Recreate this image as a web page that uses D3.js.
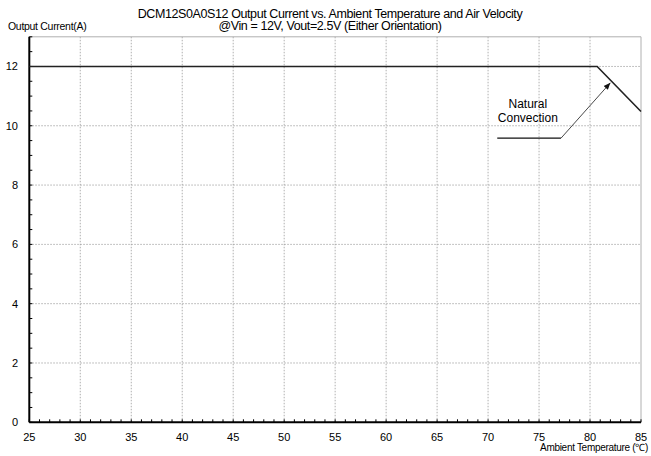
<!DOCTYPE html>
<html><head><meta charset="utf-8">
<script src="https://cdn.jsdelivr.net/npm/d3@7"></script>
<style>
body{margin:0;background:#fff;}
svg text{font-family:"Liberation Sans",Arial,sans-serif;fill:#000;}
</style></head>
<body><svg id="c" width="651" height="456"></svg>
<script>
const titleLines = ["DCM12S0A0S12 Output Current vs. Ambient Temperature and Air Velocity",
                    "@Vin = 12V, Vout=2.5V (Either Orientation)"];
const yAxisTitle = "Output Current(A)";
const xAxisTitle = "Ambient Temperature (℃)";
const xTicks = [25,30,35,40,45,50,55,60,65,70,75,80,85];
const yTicks = [0,2,4,6,8,10,12];
const curveTemp = [25, 80.7, 85];
const curveCurrent = [12, 12, 10.48];
const annotationText = ["Natural", "Convection"];

const svg = d3.select("#c");
const x = d3.scaleLinear().domain([25,85]).range([29.3,641]);
const y = d3.scaleLinear().domain([0,13]).range([422.3,36.8]);

// gridlines
svg.append("g").selectAll("line").data(xTicks.slice(1,-1)).join("line")
  .attr("x1",d=>x(d)).attr("x2",d=>x(d)).attr("y1",y(13)).attr("y2",y(0))
  .attr("stroke","#9a9a9a").attr("stroke-width",0.8).attr("stroke-dasharray","1.5,1.5");
svg.append("g").selectAll("line").data(yTicks.slice(1)).join("line")
  .attr("x1",x(25)).attr("x2",x(85)).attr("y1",d=>y(d)).attr("y2",d=>y(d))
  .attr("stroke","#9a9a9a").attr("stroke-width",0.8).attr("stroke-dasharray","1.5,1.5");
// top/right border
svg.append("path").attr("d",`M${x(25)},${y(13)}H${x(85)}V${y(0)}`)
  .attr("fill","none").attr("stroke","#b0b0b0").attr("stroke-width",1);

// axes
const xMinor = d3.range(25,86,1);
const yMinor = d3.range(0,13.01,0.5);
svg.append("g").selectAll("line").data(xMinor).join("line")
  .attr("x1",d=>x(d)).attr("x2",d=>x(d)).attr("y1",y(0)).attr("y2",y(0)-3)
  .attr("stroke","#000").attr("stroke-width",1);
svg.append("g").selectAll("line").data(yMinor).join("line")
  .attr("x1",x(25)).attr("x2",x(25)+3).attr("y1",d=>y(d)).attr("y2",d=>y(d))
  .attr("stroke","#000").attr("stroke-width",1);
svg.append("line").attr("x1",x(25)).attr("x2",x(85)).attr("y1",y(0)).attr("y2",y(0))
  .attr("stroke","#000").attr("stroke-width",2);
svg.append("line").attr("x1",x(25)).attr("x2",x(25)).attr("y1",y(13)).attr("y2",y(0))
  .attr("stroke","#000").attr("stroke-width",2);

// tick labels
svg.append("g").selectAll("text").data(xTicks).join("text")
  .attr("x",d=>x(d)).attr("y",441).attr("text-anchor","middle")
  .attr("font-size","11px").text(d=>d);
svg.append("g").selectAll("text").data(yTicks).join("text")
  .attr("x",18).attr("y",d=>y(d)+4).attr("text-anchor","end")
  .attr("font-size","11px").text(d=>d);

// titles
svg.selectAll("text.t").data(titleLines).join("text").attr("class","t")
  .attr("x",330).attr("y",(d,i)=>17.5+i*12.5).attr("text-anchor","middle")
  .attr("font-size","12.5px").attr("letter-spacing","-0.4px").text(d=>d);
svg.append("text").attr("x",8).attr("y",29.5).attr("font-size","10.5px")
  .attr("letter-spacing","-0.3px").text(yAxisTitle);
svg.append("text").attr("x",648).attr("y",451).attr("text-anchor","end")
  .attr("font-size","10px").attr("letter-spacing","-0.3px").text(xAxisTitle);

// data line
const line = d3.line().x(d=>x(d[0])).y(d=>y(d[1]));
svg.append("path").datum(d3.zip(curveTemp,curveCurrent)).attr("d",line)
  .attr("fill","none").attr("stroke","#222").attr("stroke-width",1.6);

// annotation
svg.append("defs").append("marker").attr("id","ah").attr("viewBox","0 0 10 10")
  .attr("refX",10).attr("refY",5).attr("markerUnits","userSpaceOnUse")
  .attr("markerWidth",7).attr("markerHeight",7)
  .attr("orient","auto").append("path").attr("d","M0,1L10,5L0,9z").attr("fill","#111");
svg.append("line").attr("x1",x(70.9)).attr("x2",x(77.15)).attr("y1",y(9.58)).attr("y2",y(9.58))
  .attr("stroke","#111").attr("stroke-width",1.2);
svg.append("line").attr("x1",x(77.15)).attr("x2",x(82.0)).attr("y1",y(9.58)).attr("y2",y(11.45))
  .attr("stroke","#333").attr("stroke-width",0.9).attr("marker-end","url(#ah)");
svg.selectAll("text.a").data(annotationText).join("text").attr("class","a")
  .attr("x",x(73.9)).attr("y",(d,i)=>y(10.6)+i*14.5).attr("text-anchor","middle")
  .attr("font-size","12px").text(d=>d);
</script></body></html>
